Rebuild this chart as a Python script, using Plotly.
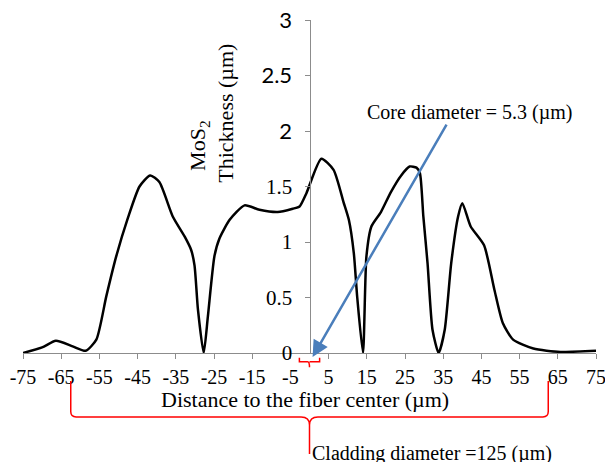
import plotly.graph_objects as go

# ---- data ----
x_dist = [-75, -70, -66.4, -62, -58.6, -55.8, -53.2, -50.6, -47.6, -44.5, -41.7, -39.3,
          -35.8, -32.7, -31.0, -30.1, -29.2, -27.7, -26.6, -24.9, -23.6, -20.9, -17, -13.1,
          -8.3, -4.4, -2.6, -0.8, 3.1, 6.3, 8.9, 10.3, 11.6, 12.5, 14.0, 14.9, 16.2, 18.7,
          21.3, 24.0, 26.2, 28.0, 28.9, 29.8, 30.9, 32.2, 33.8, 35.4, 37.1, 38.9, 40.0,
          42.2, 45.7, 48.4, 50.6, 53.3, 58.6, 65.7, 75]
thickness = [0, 0.05, 0.11, 0.06, 0.02, 0.12, 0.51, 0.87, 1.21, 1.5, 1.6, 1.54,
             1.23, 1.05, 0.93, 0.79, 0.39, 0.0, 0.33, 0.87, 1.03, 1.2, 1.33, 1.29,
             1.27, 1.30, 1.32, 1.44, 1.75, 1.65, 1.36, 1.2, 0.9, 0.5, 0.0, 0.87, 1.14, 1.27,
             1.45, 1.6, 1.68, 1.67, 1.62, 1.23, 0.81, 0.21, 0.0, 0.21, 0.81, 1.23, 1.35,
             1.14, 0.97, 0.57, 0.27, 0.12, 0.04, 0.01, 0.02]

x_tick_vals = list(range(-75, 76, 10))
x_tick_text = [str(v) for v in x_tick_vals]
y_ticks_upper = [2, 2.5, 3]          # drawn in a Calibri-like face
y_ticks_lower = [0, 0.5, 1, 1.5]     # drawn in a Times-like face

core_diameter = 5.3
cladding_diameter = 125

SERIF = "Liberation Serif, Times New Roman, serif"
SANS = "Lato, Carlito, Calibri, sans-serif"

fig = go.Figure()
fig.add_trace(go.Scatter(
    x=x_dist, y=thickness, mode="lines",
    line=dict(color="black", width=2.5, shape="spline", smoothing=0.6),
    hoverinfo="skip", showlegend=False,
))
# invisible helper so the second (overlaid) y axis gets drawn
fig.add_trace(go.Scatter(
    x=x_dist[:1], y=thickness[:1], yaxis="y2", mode="markers",
    marker=dict(opacity=0), hoverinfo="skip", showlegend=False,
))

# brace shapes (x in data units, y in paper units)
half = cladding_diameter / 2
yTop, yH, yC, yBot = -0.084, -0.192, -0.216, -0.303
rx, ry = 1.4, 0.016
brace = (f"M {-half},{yTop} L {-half},{yH + ry} Q {-half},{yH} {-half + rx},{yH} "
         f"L {-2.2},{yH} Q 0,{yH} 0,{yC} L 0,{yBot} "
         f"M 0,{yC} Q 0,{yH} {2.2},{yH} L {half - rx},{yH} "
         f"Q {half},{yH} {half},{yH + ry} L {half},{yTop}")
ch = core_diameter / 2
sTop, sH, sBot = -0.014, -0.026, -0.043
small = (f"M {-ch},{sTop} L {-ch},{sH} L {-0.5},{sH} Q 0,{sH} 0,{sBot} "
         f"M 0,{sH} Q 0,{sH} 0.5,{sH} L {ch},{sH} L {ch},{sTop}")

fig.add_shape(type="path", path=brace, xref="x", yref="paper",
              line=dict(color="#ff0000", width=1.5))
fig.add_shape(type="path", path=small, xref="x", yref="paper",
              line=dict(color="#ff0000", width=1.5))

annotations = [
    # arrow
    dict(x=0.8, y=-0.036, xref="x", yref="y", ax=36.1, ay=2.07, axref="x", ayref="y",
         showarrow=True, arrowhead=2, arrowsize=1.3, arrowwidth=2.5,
         arrowcolor="#4a7ebb", text=""),
    dict(x=41.9, y=2.17, xref="x", yref="y", text="Core diameter = 5.3 (µm)",
         showarrow=False, xanchor="center", yanchor="middle",
         font=dict(family=SERIF, size=20, color="black")),
    dict(x=0.2, y=-0.262, xref="x", yref="paper", xanchor="left", yanchor="top",
         text="Cladding diameter =125 (µm)", showarrow=False,
         font=dict(family=SERIF, size=20, color="black")),
    dict(x=-1.2, y=-0.141, xref="x", yref="paper", text="Distance to the fiber center (µm)",
         showarrow=False, xanchor="center", yanchor="middle",
         font=dict(family=SERIF, size=22, color="black")),
    dict(x=-28.8, y=1.87, xref="x", yref="y", text="MoS<sub>2</sub>", textangle=-90,
         showarrow=False, xanchor="center", yanchor="middle",
         font=dict(family=SERIF, size=22, color="black")),
    dict(x=-22.0, y=2.16, xref="x", yref="y", text="Thickness (µm)", textangle=-90,
         showarrow=False, xanchor="center", yanchor="middle",
         font=dict(family=SERIF, size=22, color="black")),
]

fig.update_layout(
    width=605, height=462,
    margin=dict(l=23, r=9, t=20, b=109, autoexpand=False),
    paper_bgcolor="white", plot_bgcolor="white",
    annotations=annotations,
    xaxis=dict(
        range=[-75, 75], tickvals=x_tick_vals, ticktext=x_tick_text,
        showgrid=False, zeroline=False, showline=True, linecolor="#8c8c8c", linewidth=1,
        ticks="outside", ticklen=5, tickcolor="#8c8c8c", automargin=False,
        ticklabeloverflow="allow", ticklabelstandoff=1,
        tickfont=dict(family=SERIF, size=20, color="black"),
    ),
    yaxis=dict(
        range=[0, 3], tickvals=y_ticks_upper,
        anchor="free", position=0.5, side="left", automargin=False,
        showgrid=False, zeroline=False, showline=True, linecolor="#8c8c8c", linewidth=1,
        ticks="outside", ticklen=5, tickcolor="#8c8c8c",
        tickfont=dict(family=SANS, size=22, color="black"),
        ticklabelstandoff=8, ticklabeloverflow="allow",
    ),
    yaxis2=dict(
        range=[0, 3], tickvals=y_ticks_lower, overlaying="y",
        anchor="free", position=0.5, side="left", automargin=False,
        showgrid=False, zeroline=False, showline=False,
        ticks="outside", ticklen=5, tickcolor="#8c8c8c",
        tickfont=dict(family=SERIF, size=21, color="black"),
        ticklabelstandoff=8, ticklabeloverflow="allow",
    ),
)

# remove the browser's default 8px body margin so the figure fills the window
fig.write_html("out.html", config={"displayModeBar": False},
               post_script="document.body.style.margin='0';")
